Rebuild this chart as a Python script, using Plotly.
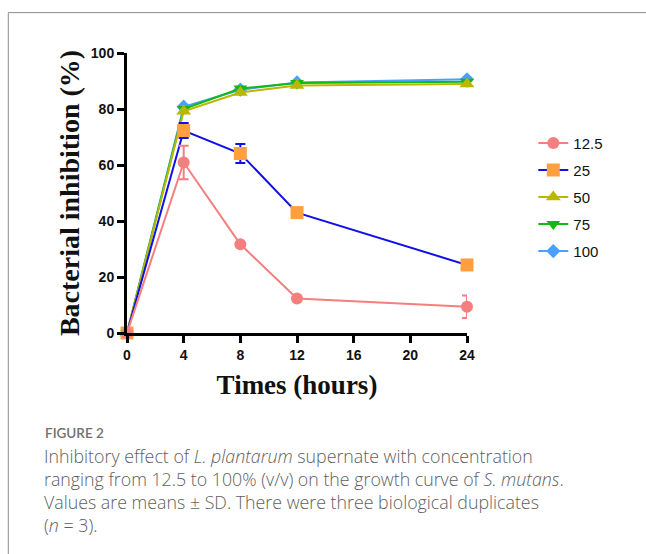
import plotly.graph_objects as go

times = [0, 4, 8, 12, 24]
names = ["12.5", "25", "50", "75", "100"]
inh_125 = [0, 60.9, 31.7, 12.3, 9.4]
err_125 = [0, 6.0, 0, 0, 4.0]
inh_25 = [0, 72.3, 64.1, 43.0, 24.3]
err_25 = [0, 2.7, 3.4, 0, 0]
inh_50 = [0, 79.2, 85.9, 88.4, 88.9]
inh_75 = [0, 80.0, 87.3, 89.3, 89.7]
inh_100 = [0, 80.8, 86.9, 89.5, 90.6]
x_ticks = [0, 4, 8, 12, 16, 20, 24]
y_ticks = [0, 20, 40, 60, 80, 100]

series = [
    # name, values, errors, line colour, marker colour, symbol, size
    ("100", inh_100, None, "#4d9fff", "#4d9fff", "diamond", 11),
    ("75", inh_75, None, "#14b814", "#14b814", "triangle-down", 12),
    ("50", inh_50, None, "#b8b800", "#b8b800", "triangle-up", 13),
    ("25", inh_25, err_25, "#1010e8", "#ffa040", "square", 13),
    ("12.5", inh_125, err_125, "#f47f7f", "#f47f7f", "circle", 12),
]

fig = go.Figure()
for name, vals, errs, lc, mc, sym, sz in series:
    tr = dict(
        x=times, y=vals, name=name, mode="lines+markers",
        line=dict(color=lc, width=2),
        marker=dict(color=mc, symbol=sym, size=sz),
        cliponaxis=False,
        legendrank=names.index(name) + 1,
        legendgroup=name,
    )
    if errs is not None:
        tr["error_y"] = dict(type="data", array=errs, visible=True,
                             color=lc, thickness=2, width=5)
    fig.add_trace(go.Scatter(**tr))

# plot area geometry
L, T, W, H = 126.7, 53.3, 340.0, 279.4
FW, FH = 646, 554


def px(X):
    return (X - L) / W


def py(Y):
    return (T + H - Y) / H


fig.update_layout(
    width=FW, height=FH,
    margin=dict(l=L, r=FW - L - W, t=T, b=FH - T - H, pad=0),
    paper_bgcolor="white", plot_bgcolor="white",
    showlegend=True,
    legend=dict(x=px(533), y=py(127), xanchor="left", yanchor="top",
                font=dict(family="Liberation Sans, Arial", size=15, color="#111"),
                traceorder="grouped", tracegroupgap=4.5,
                bgcolor="rgba(0,0,0,0)"),
    xaxis=dict(range=[0, 24], tickvals=x_ticks, showgrid=False, zeroline=False,
               showline=True, linecolor="black", linewidth=3,
               ticks="outside", ticklen=7, tickwidth=3, tickcolor="black",
               tickfont=dict(family="Liberation Sans, Arial", size=14, color="#111",
                             weight="bold"),
               title=dict(text="<b>Times (hours)</b>", standoff=14,
                          font=dict(family="Liberation Serif, Times New Roman",
                                    size=27, color="#111"))),
    yaxis=dict(range=[0, 100], tickvals=y_ticks, showgrid=False, zeroline=False,
               showline=True, linecolor="black", linewidth=3,
               ticks="outside", ticklen=7, tickwidth=3, tickcolor="black",
               tickfont=dict(family="Liberation Sans, Arial", size=14, color="#111",
                             weight="bold"),
               title=dict(text="<b>Bacterial inhibition (%)</b>", standoff=4,
                          font=dict(family="Liberation Serif, Times New Roman",
                                    size=28, color="#111"))),
)

# card border
fig.add_shape(type="line", xref="paper", yref="paper",
              x0=px(8), x1=px(660), y0=py(13), y1=py(13),
              line=dict(color="#8c8c8c", width=1))
fig.add_shape(type="line", xref="paper", yref="paper",
              x0=px(8), x1=px(8), y0=py(13), y1=py(570),
              line=dict(color="#8c8c8c", width=1))

cap_font = dict(family="Open Sans, Noto Sans", size=17.8, color="#606060",
                weight=300)
fig.add_annotation(text="FIGURE 2", xref="paper", yref="paper",
                   x=px(43), y=py(432), xanchor="left", yanchor="middle",
                   showarrow=False,
                   font=dict(family="Lato, Open Sans", size=13.5, color="#707070",
                             weight=600))
lines = [
    "Inhibitory effect of <i>L. plantarum</i> supernate with concentration",
    "ranging from 12.5 to 100% (v/v) on the growth curve of <i>S. mutans</i>.",
    "Values are means ± SD. There were three biological duplicates",
    "(<i>n</i> = 3).",
]
for i, t in enumerate(lines):
    fig.add_annotation(text=t, xref="paper", yref="paper",
                       x=px(42), y=py(455 + 23 * i), xanchor="left", yanchor="middle",
                       showarrow=False, font=cap_font)

fig.write_html("out.html")
